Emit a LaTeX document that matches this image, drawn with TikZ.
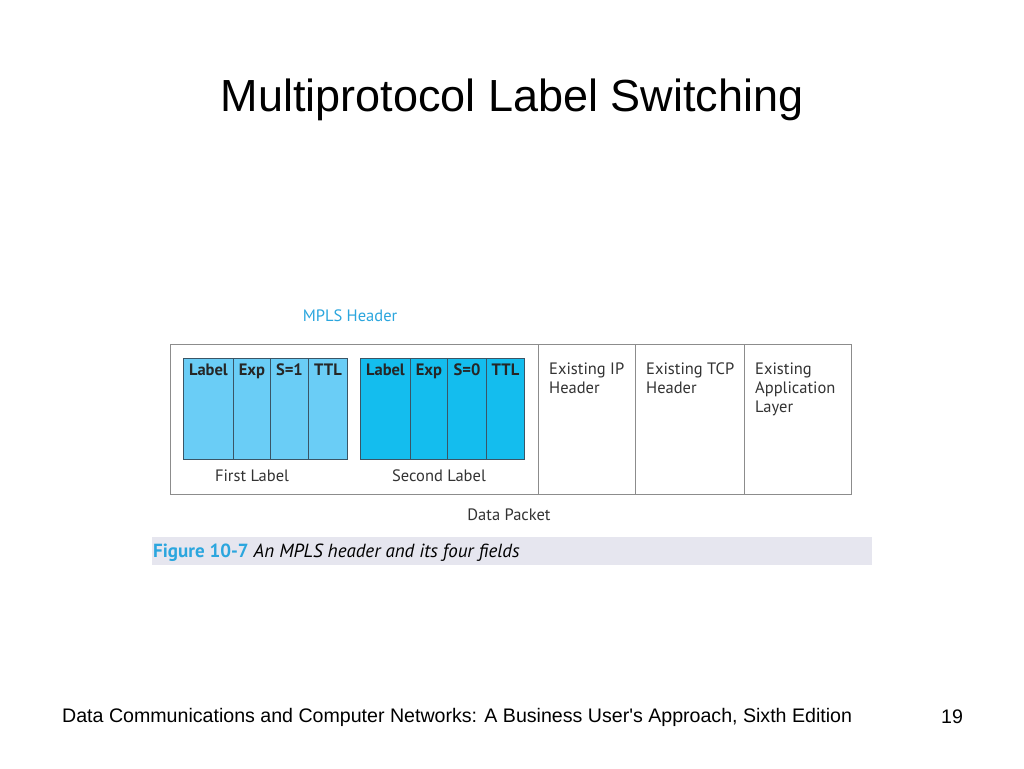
\documentclass[tikz,border=0pt]{standalone}
\usepackage{fontspec}
\setmainfont{Liberation Sans}
\newfontfamily\footfont[Ligatures=TeXOff]{Liberation Sans}
\newfontfamily\figfont{PT Sans}
\begin{document}
\begin{tikzpicture}[x=1pt,y=-1pt,
  fld/.style={draw=fldborder,line width=0.9pt,inner sep=0pt,anchor=north west},
  lightfld/.style={fld,fill=lightblue},
  darkfld/.style={fld,fill=darkblue},
  fldtxt/.style={font=\figfont\bfseries\fontsize{16.5}{19}\selectfont,text=black!85,anchor=north,inner sep=0pt},
  bodytxt/.style={font=\figfont\fontsize{16.5}{19}\selectfont,text=black!80,inner sep=0pt},
  packetline/.style={draw=black!45,line width=1pt}]
\definecolor{lightblue}{HTML}{6ACDF6}
\definecolor{darkblue}{HTML}{14BDEE}
\definecolor{fldborder}{HTML}{3A5566}
\definecolor{mplscyan}{HTML}{2BA6DE}
\definecolor{capband}{HTML}{E6E6EF}
\useasboundingbox (0,0) rectangle (1024,768);
\fill[white] (0,0) rectangle (1024,768);
% title
\node[font=\fontsize{45}{50}\selectfont] (title) at (512,100) {Multiprotocol Label Switching};
% outer packet
\draw[packetline] (170,344) rectangle (851,494);
\coordinate (d1t) at (538,344); \coordinate (d1b) at (538,494);
\coordinate (d2t) at (635,344); \coordinate (d2b) at (635,494);
\coordinate (d3t) at (744,344); \coordinate (d3b) at (744,494);
\draw[packetline] (d1t) -- (d1b) (d2t) -- (d2b) (d3t) -- (d3b);
% first label
\node[lightfld,minimum width=50,minimum height=101] (f1) at (183,358) {};
\node[lightfld,minimum width=37,minimum height=101] (f2) at (233,358) {};
\node[lightfld,minimum width=38,minimum height=101] (f3) at (270,358) {};
\node[lightfld,minimum width=39,minimum height=101] (f4) at (308,358) {};
\node[fldtxt] at ([yshift=-6]f1.north) {Label};
\node[fldtxt] at ([yshift=-6]f2.north) {Exp};
\node[fldtxt] at ([yshift=-6]f3.north) {S=1};
\node[fldtxt] at ([yshift=-6]f4.north) {TTL};
% second label
\node[darkfld,minimum width=50,minimum height=101] (s1) at (360,358) {};
\node[darkfld,minimum width=37,minimum height=101] (s2) at (410,358) {};
\node[darkfld,minimum width=39,minimum height=101] (s3) at (447,358) {};
\node[darkfld,minimum width=38,minimum height=101] (s4) at (486,358) {};
\node[fldtxt] at ([yshift=-6]s1.north) {Label};
\node[fldtxt] at ([yshift=-6]s2.north) {Exp};
\node[fldtxt] at ([yshift=-6]s3.north) {S=0};
\node[fldtxt] at ([yshift=-6]s4.north) {TTL};
\node[bodytxt] (first) at (252,476) {First Label};
\node[bodytxt] (second) at (439,476) {Second Label};
\node[font=\figfont\fontsize{16.5}{19}\selectfont,text=mplscyan,inner sep=0pt] (mpls) at (350,316) {MPLS Header};
% existing
\node[bodytxt,anchor=north west,align=left] (ip) at (549,363) {Existing IP\\Header};
\node[bodytxt,anchor=north west,align=left] (tcp) at (646,363) {Existing TCP\\Header};
\node[bodytxt,anchor=north west,align=left] (app) at (755,363) {Existing\\Application\\Layer};
\node[bodytxt] (dp) at (509,515) {Data Packet};
% caption
\fill[capband] (152,537) rectangle (872,565);
\node[anchor=west,inner sep=0pt,font=\figfont\fontsize{19}{21}\selectfont] (cap) at (153,553) {\textcolor{mplscyan}{\bfseries Figure 10-7} \textit{An MPLS header and its four fields}};
% footer
\node[anchor=west,inner sep=0pt,font=\footfont\fontsize{19.6}{22}\selectfont] (foot) at (62,717) {Data Communications and Computer Networks: A Business User's Approach, Sixth Edition};
\node[inner sep=0pt,font=\footfont\fontsize{19.6}{22}\selectfont] (pg) at (952,717) {19};
\end{tikzpicture}
\end{document}
